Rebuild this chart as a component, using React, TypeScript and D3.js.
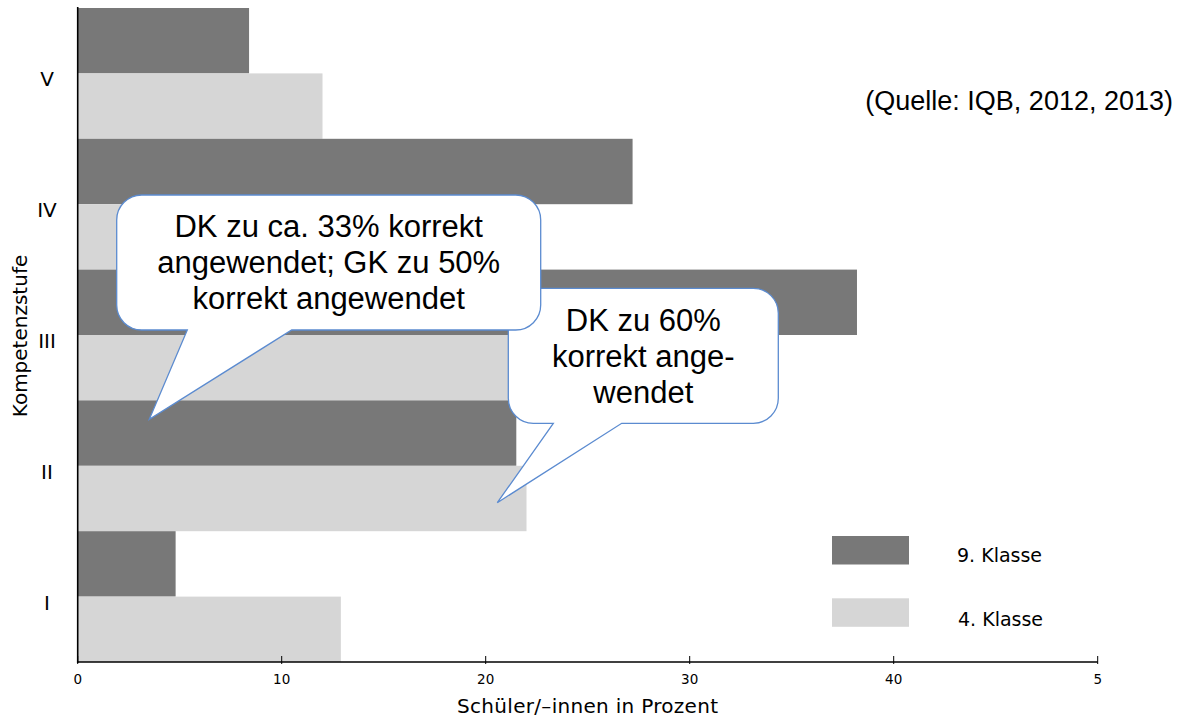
import React from "react";
import * as d3 from "d3";

const categories = ["V", "IV", "III", "II", "I"];
const seriesNames = ["9. Klasse", "4. Klasse"];
const klasse9 = [8.4, 27.2, 38.2, 21.5, 4.8];
const klasse4 = [12.0, 21.8, 31.3, 22.0, 12.9];
const tickValues = [0, 10, 20, 30, 40, 50];
const tickLabels = ["0", "10", "20", "30", "40", "5"];
const callout1Lines = ["DK zu ca. 33% korrekt", "angewendet; GK zu 50%", "korrekt angewendet"];
const callout2Lines = ["DK zu 60%", "korrekt ange-", "wendet"];
const sourceText = "(Quelle: IQB, 2012, 2013)";
const xTitle = "Schüler/–innen in Prozent";
const yTitle = "Kompetenzstufe";

const W = 1181;
const H = 719;
const DARK = "#787878";
const LIGHT = "#d6d6d6";
const BLUE = "#5b8bd0";
const AXISFONT = "'DejaVu Sans', sans-serif";
const HELV = "'Liberation Sans', Arial, sans-serif";

function calloutPath(x0: number, y0: number, x1: number, y1: number, r: number, tailA: number, tip: [number, number], tailB: number) {
  const p = d3.path();
  p.moveTo(x0 + r, y0);
  p.lineTo(x1 - r, y0);
  p.arcTo(x1, y0, x1, y0 + r, r);
  p.lineTo(x1, y1 - r);
  p.arcTo(x1, y1, x1 - r, y1, r);
  p.lineTo(tailB, y1);
  p.lineTo(tip[0], tip[1]);
  p.lineTo(tailA, y1);
  p.lineTo(x0 + r, y1);
  p.arcTo(x0, y1, x0, y1 - r, r);
  p.lineTo(x0, y0 + r);
  p.arcTo(x0, y0, x0 + r, y0, r);
  p.closePath();
  return p.toString();
}

export default function App() {
  const x = d3.scaleLinear().domain([0, 50]).range([77.7, 1097.7]);
  const yG = d3.scaleBand<string>().domain(categories).range([8, 662]).paddingInner(0).paddingOuter(0);
  const yS = d3.scaleBand<string>().domain(seriesNames).range([0, yG.bandwidth()]).padding(0);
  const axisY = 662;

  const rows = categories.map((c, i) => ({ c, v9: klasse9[i], v4: klasse4[i] }));

  return (
    <svg width={W} height={H} style={{ position: "absolute", left: 0, top: 0, background: "#fff" }}>
      <rect x={0} y={0} width={W} height={H} fill="#fff" />
      {rows.map((r) => (
        <g key={r.c}>
          <rect x={x(0)} y={(yG(r.c) as number) + (yS(seriesNames[0]) as number)} width={x(r.v9) - x(0)} height={yS.bandwidth()} fill={DARK} />
          <rect x={x(0)} y={(yG(r.c) as number) + (yS(seriesNames[1]) as number)} width={x(r.v4) - x(0)} height={yS.bandwidth()} fill={LIGHT} />
          <text x={47} y={(yG(r.c) as number) + yG.bandwidth() / 2 + 13} textAnchor="middle" fontFamily={AXISFONT} fontSize={20} fill="#000">{r.c}</text>
        </g>
      ))}
      <line x1={x(0)} x2={x(0)} y1={7} y2={axisY + 1} stroke="#000" strokeWidth={1.6} />
      <line x1={x(0)} x2={x(50)} y1={axisY} y2={axisY} stroke="#000" strokeWidth={1.6} />
      {tickValues.map((t, i) => (
        <g key={t}>
          <line x1={x(t)} x2={x(t)} y1={axisY - 6} y2={axisY + 2} stroke="#000" strokeWidth={1} />
          <text x={x(t)} y={684} textAnchor="middle" fontFamily={AXISFONT} fontSize={13.5} fill="#000">{tickLabels[i]}</text>
        </g>
      ))}
      <text x={(x(0) + x(50)) / 2} y={713} textAnchor="middle" fontFamily={AXISFONT} fontSize={20} letterSpacing={0.3} fill="#000">{xTitle}</text>
      <text transform={`translate(27,336) rotate(-90)`} textAnchor="middle" fontFamily={AXISFONT} fontSize={20} fill="#000">{yTitle}</text>

      <rect x={832} y={536} width={77} height={28.5} fill={DARK} />
      <rect x={832} y={598.3} width={77} height={28.5} fill={LIGHT} />
      <text x={957} y={562} fontFamily={AXISFONT} fontSize={19} fill="#000">{seriesNames[0]}</text>
      <text x={958} y={626} fontFamily={AXISFONT} fontSize={19} fill="#000">{seriesNames[1]}</text>

      <text x={1173} y={110} textAnchor="end" fontFamily={HELV} fontSize={27} fill="#000">{sourceText}</text>

      <path d={calloutPath(508.3, 288.3, 778.3, 423.3, 25, 553.3, [497.3, 502.7], 621.7)} fill="#fff" stroke={BLUE} strokeWidth={1.3} />
      {callout2Lines.map((l, i) => (
        <text key={l} x={643.3} y={331 + i * 36} textAnchor="middle" fontFamily={HELV} fontSize={31} fill="#000">{l}</text>
      ))}
      <path d={calloutPath(116.7, 195, 540.7, 330, 25, 187.3, [149.3, 419.3], 291.7)} fill="#fff" stroke={BLUE} strokeWidth={1.3} />
      {callout1Lines.map((l, i) => (
        <text key={l} x={328.7} y={237 + i * 36} textAnchor="middle" fontFamily={HELV} fontSize={31} fill="#000">{l}</text>
      ))}
    </svg>
  );
}
